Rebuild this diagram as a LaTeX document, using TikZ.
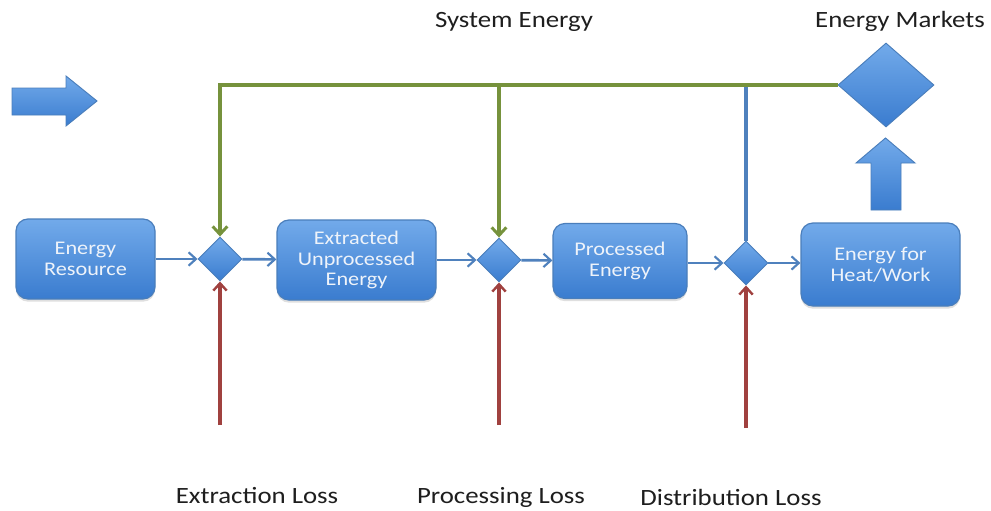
\documentclass[tikz,border=0pt]{standalone}
\usepackage{fontspec}
\setmainfont{Carlito}[FakeStretch=1.15]
\usetikzlibrary{arrows.meta,shapes.geometric,shadows}
\definecolor{boxtop}{HTML}{72AAEA}
\definecolor{boxbot}{HTML}{3A7CCF}
\definecolor{boxline}{HTML}{4A7EBB}
\definecolor{gline}{HTML}{76923C}
\definecolor{rline}{HTML}{A0413F}
\definecolor{bline}{HTML}{4F81BD}
\definecolor{labtxt}{HTML}{1E1E1E}
\definecolor{boxtxt}{HTML}{EEF3FA}
\tikzset{
  stage/.style={draw=boxline, line width=0.9pt, rounded corners=9pt,
    top color=boxtop, bottom color=boxbot, text=boxtxt, align=center,
    font=\fontsize{14.5}{15.5}\selectfont, inner sep=0pt,
    drop shadow={shadow xshift=0pt, shadow yshift=-2pt, opacity=0.25}},
  junc/.style={diamond, aspect=1, draw=boxline, line width=0.7pt,
    top color=boxtop, bottom color=boxbot, inner sep=0pt,
    minimum width=33pt, minimum height=33pt},
  bigshape/.style={draw=boxline, line width=0.7pt, top color=boxtop, bottom color=boxbot},
  lab/.style={text=labtxt, font=\fontsize{17.5}{20}\selectfont, anchor=base, inner sep=0pt},
  bconn/.style={draw=bline, line width=2pt, -{Straight Barb[length=5.5pt,width=10pt,line width=1.6pt]}},
  gconn/.style={draw=gline, line width=3pt, -{Straight Barb[length=6pt,width=11pt,line width=2.2pt]}},
  rconn/.style={draw=rline, line width=2.3pt, -{Straight Barb[length=5.5pt,width=10pt,line width=1.8pt]}},
  bvert/.style={draw=bline, line width=2.6pt},
}
\begin{document}
\begin{tikzpicture}[x=0.75pt, y=-0.75pt]
\fill[white] (0,0) rectangle (991,510);
\useasboundingbox (0,0) rectangle (991,510);

% big arrows
\path[bigshape] (12,88) -- (66,88) -- (66,76) -- (97,101) -- (66,126) -- (66,115) -- (12,115) -- cycle;
\path[bigshape] (871,210) -- (871,163) -- (856,163) -- (885.5,138) -- (915,163) -- (901,163) -- (901,210) -- cycle;

% labels
\node[lab] (lsys) at (514,28) {System Energy};
\node[lab] (lmk) at (900,28) {Energy Markets};
\node[lab] (lext) at (257,503) {Extraction Loss};
\node[lab] (lpro) at (501,503) {Processing Loss};
\node[lab] (ldis) at (731,505) {Distribution Loss};

% market diamond
\node[junc, minimum width=72pt, minimum height=63pt] (mk) at (886,85) {};

% stages
\node[stage, minimum width=104.25pt, minimum height=60pt] (res) at (85.5,259) {Energy\\Resource};
\node[stage, minimum width=119.25pt, minimum height=60pt] (ext) at (356.5,260) {Extracted\\Unprocessed\\Energy};
\node[stage, minimum width=100.5pt, minimum height=56.25pt] (pro) at (620,261) {Processed\\Energy};
\node[stage, minimum width=119.25pt, minimum height=62.25pt] (use) at (880.5,264.5) {Energy for\\Heat/Work};

% junctions
\node[junc] (d1) at (220,259) {};
\node[junc] (d2) at (499,260) {};
\node[junc] (d3) at (746,263) {};

% flow connectors
\draw[bconn] (res) -- (d1);
\draw[bconn] (d1) -- (ext);
\draw[bconn] (ext) -- (d2);
\draw[bconn] (d2) -- (pro);
\draw[bconn] (pro.east |- d3) -- (d3);
\draw[bconn] (d3) -- (use.west |- d3);

% system energy lines
\draw[bvert] (d3.north) -- (d3 |- mk.west);
\draw[gconn] (mk.west) -| (d1.north);
\draw[gconn] (d2 |- mk.west) -- (d2.north);

% losses
\coordinate (r1) at (220,425);
\coordinate (r2) at (499,425);
\coordinate (r3) at (746,428);
\draw[rconn] (r1) -- (d1.south);
\draw[rconn] (r2) -- (d2.south);
\draw[rconn] (r3) -- (d3.south);
\end{tikzpicture}
\end{document}
